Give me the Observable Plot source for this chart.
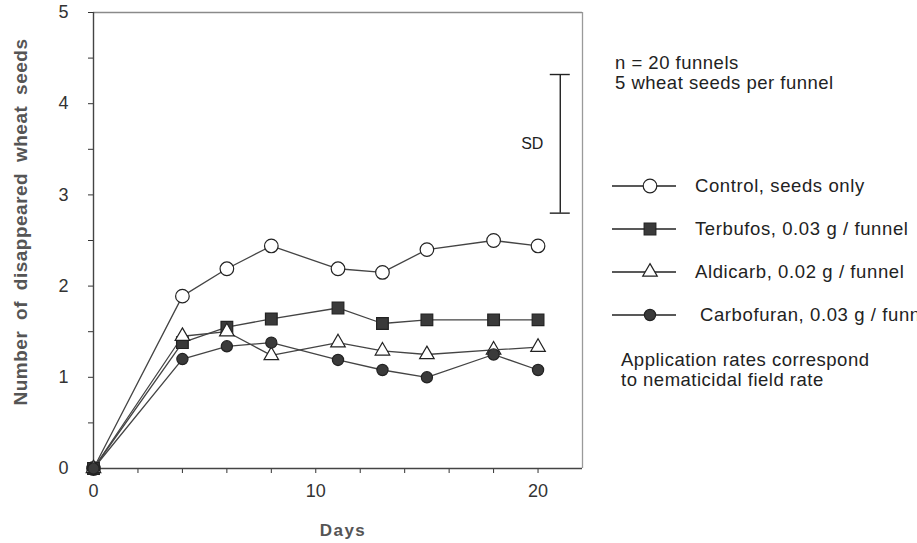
<!DOCTYPE html>
<html><head><meta charset="utf-8">
<script src="https://cdn.jsdelivr.net/npm/d3@7"></script>
<script src="https://cdn.jsdelivr.net/npm/@observablehq/plot@0.6"></script>
<style>
body{margin:0;background:#fff;overflow:hidden}
#chart{position:relative;width:917px;height:543px;font-family:"Liberation Sans",Arial,sans-serif}
</style>
</head><body><div id="chart"></div>
<script>
// ---- data ----
const days       = [0, 4, 6, 8, 11, 13, 15, 18, 20];
const control    = [0, 1.89, 2.19, 2.44, 2.19, 2.15, 2.40, 2.50, 2.44];
const terbufos   = [0, 1.38, 1.55, 1.64, 1.76, 1.59, 1.63, 1.63, 1.63];
const aldicarb   = [0, 1.45, 1.50, 1.24, 1.38, 1.29, 1.25, 1.30, 1.33];
const carbofuran = [0, 1.20, 1.34, 1.38, 1.19, 1.08, 1.00, 1.25, 1.08];
const seriesNames = ["Control, seeds only", "Terbufos, 0.03 g / funnel", "Aldicarb, 0.02 g / funnel", "Carbofuran, 0.03 g / funnel"];
const sdDay = 21, sdLow = 2.80, sdHigh = 4.32;
const xTickValues = [0, 2, 4, 6, 8, 10, 12, 14, 16, 18, 20];
const xTickLabels = [0, 10, 20];
const yTickValues = [0, 0.5, 1, 1.5, 2, 2.5, 3, 3.5, 4, 4.5, 5];
const yTickLabels = [0, 1, 2, 3, 4, 5];
const notesTop = ["n = 20 funnels", "5 wheat seeds per funnel"];
const notesBottom = ["Application rates correspond", "to nematicidal field rate"];

// ---- styling per series ----
const seriesValues = [control, terbufos, aldicarb, carbofuran];
const styles = [
  {symbol: "circle",   fill: "white",   r: 6.8},
  {symbol: "square",   fill: "#3a3a3a", r: 6.6},
  {symbol: "triangle", fill: "white",   r: 5.4},
  {symbol: "circle",   fill: "#3a3a3a", r: 5.6}
];
const rows = seriesNames.map((name, i) => days.map((d, j) => ({series: name, day: d, value: seriesValues[i][j]})));

const lineColor = "#444";
const marks = [
  Plot.ruleY([5], {stroke: "#8a8a8a", strokeWidth: 1.3}),
  Plot.ruleX([22], {stroke: "#9a9a9a", strokeWidth: 1.3}),
  Plot.ruleX([0], {stroke: "#444", strokeWidth: 1.4}),
  Plot.ruleY([0], {stroke: "#444", strokeWidth: 1.4}),
  // SD bar
  Plot.ruleX([sdDay], {y1: sdLow, y2: sdHigh, stroke: "#222", strokeWidth: 1.4}),
  Plot.ruleY([sdLow, sdHigh], {x1: sdDay - 0.45, x2: sdDay + 0.45, stroke: "#222", strokeWidth: 1.4}),
  Plot.text(["SD"], {x: sdDay, y: (sdLow + sdHigh) / 2, dx: -28, fontSize: 16, fill: "#222", style: "letter-spacing:2px"})
];
rows.forEach((data) => {
  marks.push(Plot.line(data, {x: "day", y: "value", stroke: lineColor, strokeWidth: 1.3}));
});
rows.forEach((data, i) => {
  const s = styles[i];
  marks.push(Plot.dot(data, {x: "day", y: "value", symbol: () => s.symbol, r: s.r, fill: s.fill, stroke: "#222", strokeWidth: 1.2}));
});

const chart = Plot.plot({
  width: 917, height: 543,
  marginLeft: 93, marginRight: 335, marginTop: 12, marginBottom: 75,
  style: {fontFamily: "'Liberation Sans', Arial, sans-serif", fontSize: "18px", color: "#333", background: "white", overflow: "visible"},
  x: {domain: [0, 22], ticks: xTickValues, tickFormat: d => xTickLabels.includes(d) ? String(d) : "", tickSize: 5, tickPadding: 11, label: null},
  y: {domain: [0, 5], ticks: yTickValues, tickFormat: d => yTickLabels.includes(d) ? String(d) : "", tickSize: 5, tickPadding: 20, label: null},
  symbol: {type: "identity"},
  marks
});
document.getElementById("chart").appendChild(chart);

// ---- annotations and legend ----
const svg = d3.select(chart);
const g = svg.append("g").attr("font-family", "'Liberation Sans', Arial, sans-serif")
  .attr("fill", "#222").attr("text-anchor", "start");

g.append("text").attr("transform", "translate(27,222) rotate(-90)")
  .attr("text-anchor", "middle").attr("font-size", 19).attr("font-weight", "bold").attr("fill", "#555")
  .attr("word-spacing", "5px").attr("letter-spacing", "0.5px").text("Number of disappeared wheat seeds");
g.append("text").attr("x", 343).attr("y", 536).attr("text-anchor", "middle")
  .attr("font-size", 17).attr("font-weight", "bold").attr("fill", "#555").attr("letter-spacing", "1.5px").text("Days");

const noteStyle = sel => sel.attr("font-size", 18.5).attr("letter-spacing", "0.5px");
notesTop.forEach((t, i) => noteStyle(g.append("text").attr("x", 615).attr("y", 69 + i * 20)).text(t));
notesBottom.forEach((t, i) => noteStyle(g.append("text").attr("x", 621).attr("y", 366 + i * 20)).text(t));

const legendY = [186, 229, 272, 315];
seriesNames.forEach((name, i) => {
  const s = styles[i];
  const y = legendY[i];
  g.append("line").attr("x1", 612).attr("x2", 676).attr("y1", y).attr("y2", y).attr("stroke", "#222").attr("stroke-width", 1.3);
  const sym = {circle: d3.symbolCircle, square: d3.symbolSquare, triangle: d3.symbolTriangle}[s.symbol];
  g.append("path").attr("transform", `translate(650,${y})`).attr("d", d3.symbol(sym, s.r * s.r * Math.PI)())
    .attr("fill", s.fill).attr("stroke", "#222").attr("stroke-width", 1.2);
  g.append("text").attr("x", i === 3 ? 700 : 695).attr("y", y + 6).attr("font-size", 18.5)
    .attr("letter-spacing", "0.6px").text(name);
});
</script>
</body></html>
